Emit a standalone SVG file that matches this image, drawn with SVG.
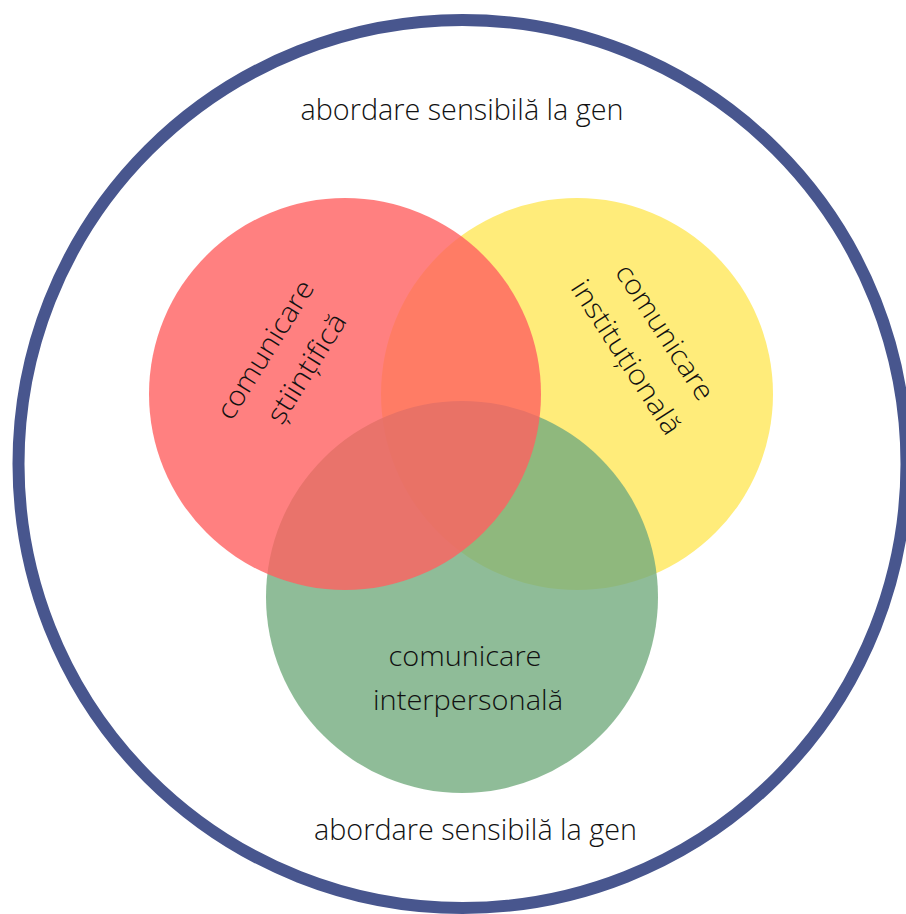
<svg xmlns="http://www.w3.org/2000/svg" width="906" height="914" viewBox="0 0 906 914">
  <style>
    .lbl { font-family: "Open Sans", "Liberation Sans", sans-serif; font-weight: 300; fill: #111; text-anchor: middle; }
    .outer { font-size: 29px; }
    .inner { font-size: 28px; }
  </style>
  <rect width="906" height="914" fill="#ffffff"/>
  <g id="outer-circle">
    <circle cx="462.5" cy="464" r="444" fill="none" stroke="#48568E" stroke-width="12"/>
    <text class="lbl outer" x="462" y="120" textLength="323" lengthAdjust="spacingAndGlyphs">abordare sensibilă la gen</text>
    <text class="lbl outer" x="475.5" y="840" textLength="323" lengthAdjust="spacingAndGlyphs">abordare sensibilă la gen</text>
  </g>
  <g id="institutional">
    <circle cx="577" cy="394" r="196" fill="#FFEC7A"/>
  </g>
  <g id="interpersonal">
    <circle cx="462" cy="597" r="196" fill="rgb(115,171,126)" fill-opacity="0.8"/>
  </g>
  <g id="stiintific">
    <circle cx="345" cy="394" r="196" fill="rgb(255,96,96)" fill-opacity="0.8"/>
  </g>
  <g id="labels">
    <g id="label-stiintific" transform="translate(283.5,361) rotate(-58)">
      <text class="lbl inner" x="0" y="-12" textLength="158" lengthAdjust="spacingAndGlyphs">comunicare</text>
      <text class="lbl inner" x="6" y="33" textLength="124" lengthAdjust="spacingAndGlyphs">științifică</text>
    </g>
    <g id="label-institutional" transform="translate(645,345) rotate(57)">
      <text class="lbl inner" x="0" y="-14" textLength="156" lengthAdjust="spacingAndGlyphs">comunicare</text>
      <text class="lbl inner" x="0" y="32" textLength="178" lengthAdjust="spacingAndGlyphs">instituțională</text>
    </g>
    <g id="label-interpersonal">
      <text class="lbl inner" x="465" y="666" textLength="153" lengthAdjust="spacingAndGlyphs">comunicare</text>
      <text class="lbl inner" x="468" y="710" textLength="190" lengthAdjust="spacingAndGlyphs">interpersonală</text>
    </g>
  </g>
</svg>
